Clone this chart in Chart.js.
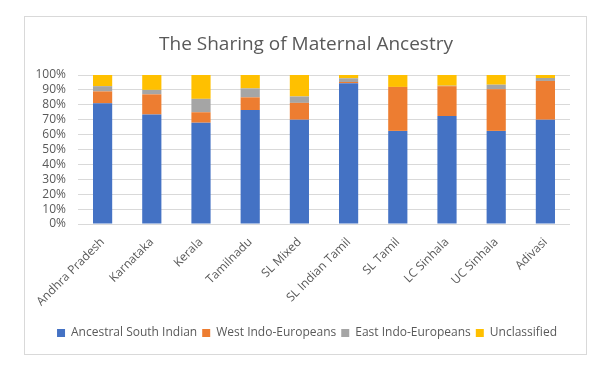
<!DOCTYPE html>
<html>
<head>
<meta charset="utf-8">
<script src="https://cdn.jsdelivr.net/npm/chart.js@4/dist/chart.umd.min.js"></script>
<style>
html,body{margin:0;padding:0;background:#fff;}
canvas{display:block;}
</style>
</head>
<body>
<canvas id="c" width="600" height="365"></canvas>
<script>
const categories = ["Andhra Pradesh","Karnataka","Kerala","Tamilnadu","SL Mixed","SL Indian Tamil","SL Tamil","LC Sinhala","UC Sinhala","Adivasi"];
const ancestralSouthIndian = [81, 73.5, 68, 76.5, 70, 94.5, 62.5, 72.5, 62.5, 70];
const westIndoEuropeans   = [8, 13.5, 7, 8.5, 11.3, 0.8, 29.5, 20, 28, 26];
const eastIndoEuropeans   = [3.5, 3, 9, 6, 4.3, 2.5, 0, 0.3, 3, 2];
const unclassified        = [7.5, 10, 16, 9, 14.4, 2.2, 8, 7.2, 6.5, 2];
const yTicks = [0,10,20,30,40,50,60,70,80,90,100];

const FONT = "'Open Sans', sans-serif";
const TXT = '#595959';

const borderPlugin = {
  id: 'frame',
  beforeDraw(chart) {
    const ctx = chart.ctx;
    ctx.save();
    ctx.fillStyle = '#fff';
    ctx.fillRect(0, 0, chart.width, chart.height);
    ctx.strokeStyle = '#d9d9d9';
    ctx.lineWidth = 1;
    ctx.strokeRect(24.5, 16.5, 562, 338);
    ctx.restore();
  },
  afterLayout(chart) {
    if (chart.legend) { chart.legend.left += 7; chart.legend.right += 7; }
    if (chart.titleBlock) { chart.titleBlock.left += 6; chart.titleBlock.right += 6; }
  }
};

function ds(label, data, color) {
  return { label, data, backgroundColor: color, borderWidth: 0,
           categoryPercentage: 1, barPercentage: 0.39 };
}

new Chart(document.getElementById('c'), {
  type: 'bar',
  data: {
    labels: categories,
    datasets: [
      ds('Ancestral South Indian', ancestralSouthIndian, '#4472C4'),
      ds('West Indo-Europeans', westIndoEuropeans, '#ED7D31'),
      ds('East Indo-Europeans', eastIndoEuropeans, '#A5A5A5'),
      ds('Unclassified', unclassified, '#FFC000')
    ]
  },
  plugins: [borderPlugin],
  options: {
    responsive: false,
    devicePixelRatio: 1,
    animation: false,
    layout: { padding: { top: 33, left: 30, right: 30, bottom: 16 } },
    plugins: {
      title: {
        display: true,
        text: 'The Sharing of Maternal Ancestry',
        color: TXT,
        font: { family: FONT, size: 19, weight: 'normal', lineHeight: 1.2 },
        padding: { top: 0, bottom: 19.2 }
      },
      legend: {
        position: 'bottom',
        labels: {
          color: TXT,
          font: { family: FONT, size: 12 },
          boxWidth: 8, boxHeight: 8,
          padding: 5
        }
      },
      tooltip: { enabled: false }
    },
    scales: {
      x: {
        stacked: true,
        grid: { display: false },
        border: { display: false },
        ticks: {
          color: TXT, font: { family: FONT, size: 12 },
          minRotation: 45, maxRotation: 45, autoSkip: false
        },
        afterFit(scale) { scale.height = 98; }
      },
      y: {
        stacked: true,
        min: 0, max: 100,
        afterBuildTicks(scale) { scale.ticks = yTicks.map(v => ({ value: v })); },
        grid: { color: '#d9d9d9', drawTicks: false },
        border: { display: false },
        ticks: {
          color: TXT, font: { family: FONT, size: 12 }, padding: 12,
          autoSkip: false,
          callback: v => v + '%'
        },
        afterFit(scale) { scale.width = 48; }
      }
    }
  }
});
</script>
</body>
</html>
